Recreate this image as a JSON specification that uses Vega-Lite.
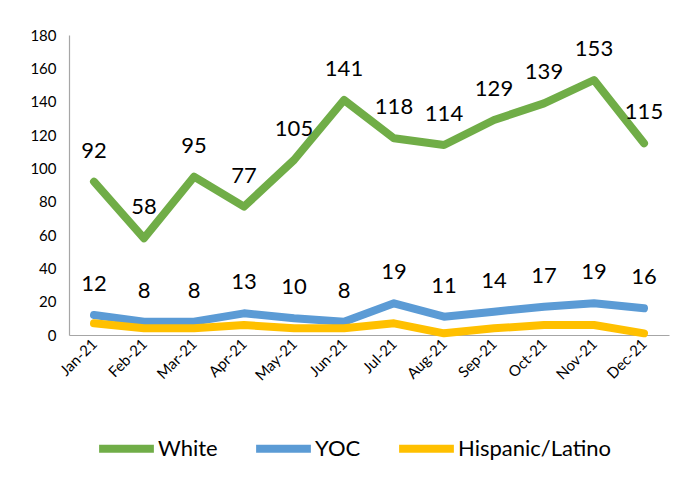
{
  "$schema": "https://vega.github.io/schema/vega-lite/v6.json",
  "width": 600,
  "height": 300,
  "autosize": "none",
  "padding": {"left": 69, "top": 35, "right": 25, "bottom": 148},
  "background": "white",
  "config": {
    "view": {"stroke": null},
    "font": "Lato",
    "axis": {"labelFont": "Lato", "labelColor": "#000000", "domainColor": "#A6A6A6", "domainWidth": 1.2, "ticks": false, "grid": false, "title": null}
  },
  "data": {
    "values": [
      {"month": "Jan-21", "series": "White", "v": 92, "lbl": "92"},
      {"month": "Feb-21", "series": "White", "v": 58, "lbl": "58"},
      {"month": "Mar-21", "series": "White", "v": 95, "lbl": "95"},
      {"month": "Apr-21", "series": "White", "v": 77, "lbl": "77"},
      {"month": "May-21", "series": "White", "v": 105, "lbl": "105"},
      {"month": "Jun-21", "series": "White", "v": 141, "lbl": "141"},
      {"month": "Jul-21", "series": "White", "v": 118, "lbl": "118"},
      {"month": "Aug-21", "series": "White", "v": 114, "lbl": "114"},
      {"month": "Sep-21", "series": "White", "v": 129, "lbl": "129"},
      {"month": "Oct-21", "series": "White", "v": 139, "lbl": "139"},
      {"month": "Nov-21", "series": "White", "v": 153, "lbl": "153"},
      {"month": "Dec-21", "series": "White", "v": 115, "lbl": "115"},
      {"month": "Jan-21", "series": "YOC", "v": 12, "lbl": "12"},
      {"month": "Feb-21", "series": "YOC", "v": 8, "lbl": "8"},
      {"month": "Mar-21", "series": "YOC", "v": 8, "lbl": "8"},
      {"month": "Apr-21", "series": "YOC", "v": 13, "lbl": "13"},
      {"month": "May-21", "series": "YOC", "v": 10, "lbl": "10"},
      {"month": "Jun-21", "series": "YOC", "v": 8, "lbl": "8"},
      {"month": "Jul-21", "series": "YOC", "v": 19, "lbl": "19"},
      {"month": "Aug-21", "series": "YOC", "v": 11, "lbl": "11"},
      {"month": "Sep-21", "series": "YOC", "v": 14, "lbl": "14"},
      {"month": "Oct-21", "series": "YOC", "v": 17, "lbl": "17"},
      {"month": "Nov-21", "series": "YOC", "v": 19, "lbl": "19"},
      {"month": "Dec-21", "series": "YOC", "v": 16, "lbl": "16"},
      {"month": "Jan-21", "series": "Hispanic/Latino", "v": 7, "lbl": ""},
      {"month": "Feb-21", "series": "Hispanic/Latino", "v": 4, "lbl": ""},
      {"month": "Mar-21", "series": "Hispanic/Latino", "v": 4, "lbl": ""},
      {"month": "Apr-21", "series": "Hispanic/Latino", "v": 6, "lbl": ""},
      {"month": "May-21", "series": "Hispanic/Latino", "v": 4, "lbl": ""},
      {"month": "Jun-21", "series": "Hispanic/Latino", "v": 4, "lbl": ""},
      {"month": "Jul-21", "series": "Hispanic/Latino", "v": 7, "lbl": ""},
      {"month": "Aug-21", "series": "Hispanic/Latino", "v": 1, "lbl": ""},
      {"month": "Sep-21", "series": "Hispanic/Latino", "v": 4, "lbl": ""},
      {"month": "Oct-21", "series": "Hispanic/Latino", "v": 6, "lbl": ""},
      {"month": "Nov-21", "series": "Hispanic/Latino", "v": 6, "lbl": ""},
      {"month": "Dec-21", "series": "Hispanic/Latino", "v": 1, "lbl": ""}
    ]
  },
  "encoding": {
    "x": {
      "field": "month", "type": "ordinal", "sort": null,
      "scale": {"type": "point", "padding": 0.5},
      "axis": {"labelAngle": -45, "labelFontSize": 15, "labelPadding": 6, "labelAlign": "right", "labelBaseline": "middle"}
    },
    "y": {
      "field": "v", "type": "quantitative",
      "scale": {"domain": [0, 180], "nice": false},
      "axis": {"values": [0, 20, 40, 60, 80, 100, 120, 140, 160, 180], "labelFontSize": 15, "labelPadding": 13}
    }
  },
  "layer": [
    {
      "mark": {"type": "line", "strokeWidth": 8, "strokeCap": "round", "strokeJoin": "round"},
      "encoding": {
        "color": {
          "field": "series", "type": "nominal",
          "scale": {"domain": ["White", "YOC", "Hispanic/Latino"], "range": ["#70AD47", "#5B9BD5", "#FFC000"]},
          "legend": {
            "title": null, "orient": "none", "direction": "horizontal",
            "legendX": 26, "legendY": 382,
            "symbolType": "stroke", "symbolSize": 3000, "symbolStrokeWidth": 8,
            "labelFontSize": 22, "labelFont": "Lato", "labelColor": "#000000", "labelOffset": 0,
            "columnPadding": 22
          }
        }
      }
    },
    {
      "mark": {"type": "text", "dy": -31, "fontSize": 22, "font": "Lato", "color": "#000000"},
      "encoding": {"text": {"field": "lbl"}}
    }
  ]
}
